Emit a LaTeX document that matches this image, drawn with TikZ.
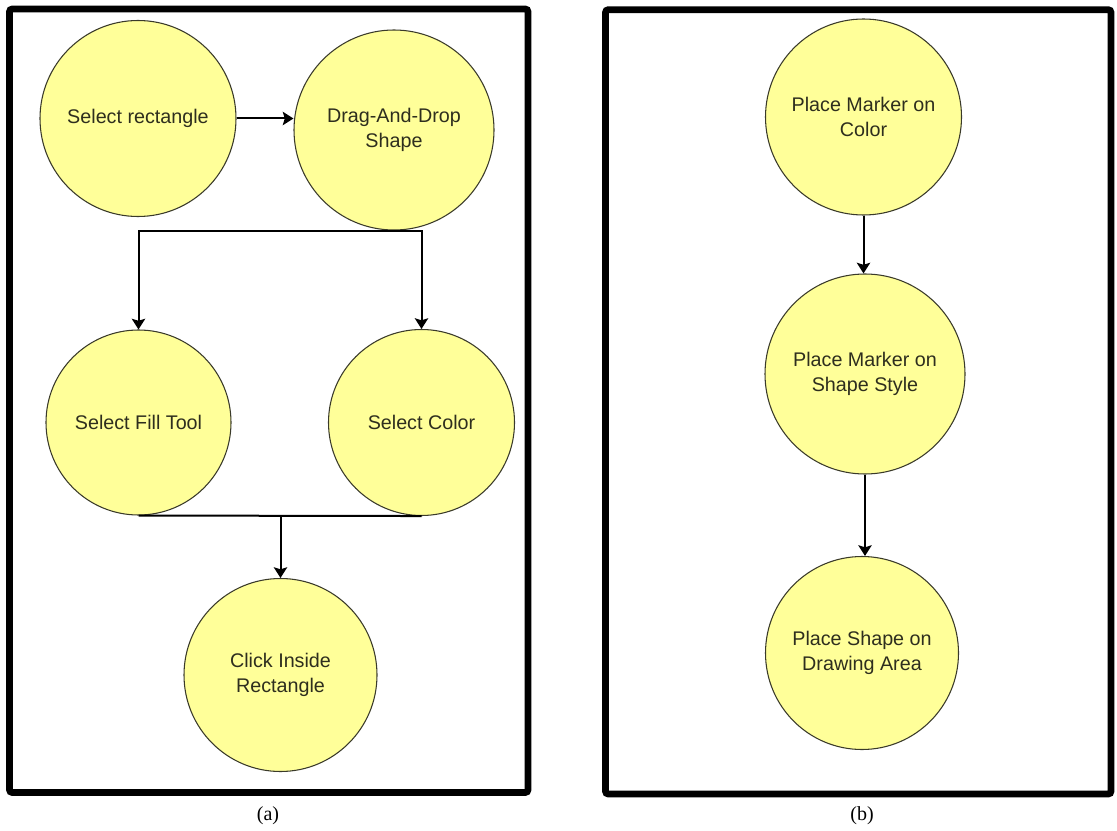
\documentclass[tikz,border=0pt]{standalone}
\usepackage{fontspec}
\setmainfont{Liberation Sans}
\newfontfamily\capfont{Liberation Serif}
\usetikzlibrary{arrows.meta}
\definecolor{nodefill}{HTML}{FFFF99}
\definecolor{nodeline}{HTML}{3A3A2A}
\definecolor{txt}{HTML}{2E2E1E}
\begin{document}
\begin{tikzpicture}[x=0.75pt,y=-0.75pt,
  stepnode/.style={circle, draw=nodeline, line width=0.8pt, fill=nodefill, inner sep=0pt, align=center, font=\fontsize{14.8}{18.75}\selectfont, text=txt},
  conn/.style={line width=1.5pt, draw=black},
  arr/.style={conn, -{Stealth[length=8pt,width=10pt,inset=1.5pt]}},
  panelframe/.style={line width=5pt, rounded corners=2pt},
  caption/.style={font=\capfont\fontsize{15}{18}\selectfont}]
\useasboundingbox (0,0) rectangle (1117,831);
\draw[panelframe] (9.5,9) rectangle (528,792.5);
\draw[panelframe] (605.5,9.7) rectangle (1111,794);
% panel (a)
\node[stepnode, minimum size=147pt] (sel) at (138,118.5) {Select rectangle};
\node[stepnode, minimum size=150pt] (drag) at (394,130) {Drag-And-Drop\\Shape};
\node[stepnode, minimum size=138.75pt] (fill) at (138.5,422.5) {Select Fill Tool};
\node[stepnode, minimum size=139.5pt] (color) at (421.5,422.5) {Select Color};
\node[stepnode, minimum size=144.75pt] (click) at (280.5,675) {Click Inside\\Rectangle};
\draw[arr] (sel.east) -- (sel.east -| drag.west);
\draw[arr] (drag.south) -| (fill.north);
\draw[arr] (drag.south) -| (color.north);
\draw[conn] (fill.south) -- (color.south);
\coordinate (merge) at (fill.south -| click.north);
\draw[arr] (merge) -- (click.north);
% panel (b)
\node[stepnode, minimum size=147pt] (pm1) at (863.5,117) {Place Marker on\\Color};
\node[stepnode, minimum size=150pt] (pm2) at (865,374) {Place Marker on\\Shape Style};
\node[stepnode, minimum size=144.75pt] (ps) at (862,653) {Place Shape on\\Drawing Area};
\draw[arr] (pm1.south) -- (pm1.south |- pm2.north);
\draw[arr] (pm2.south) -- (pm2.south |- ps.north);
% captions
\node[caption] (capa) at (268,816) {(a)};
\node[caption] (capb) at (862,816) {(b)};
\end{tikzpicture}
\end{document}
